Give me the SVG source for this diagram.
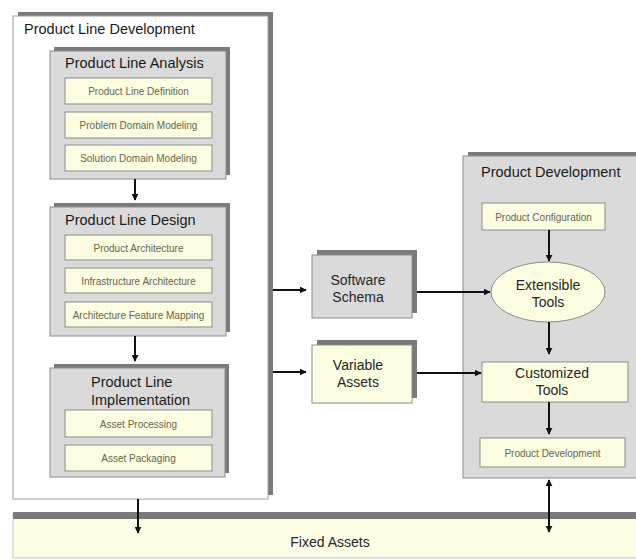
<svg xmlns="http://www.w3.org/2000/svg" width="636" height="560" viewBox="0 0 636 560">
  <defs>
    <marker id="arrow" viewBox="0 0 10 10" refX="9" refY="5" markerWidth="7" markerHeight="7" markerUnits="userSpaceOnUse" orient="auto-start-reverse">
      <path d="M0,0 L10,5 L0,10 z" fill="#111"/>
    </marker>
  </defs>
  <style>
    text { font-family: "Liberation Sans", Arial, sans-serif; }
    .shadow { fill: #7a7a7a; }
    .outer { fill: #ffffff; stroke: #a0a0a0; stroke-width: 1; }
    .group { fill: #dadada; stroke: #8c8c8c; stroke-width: 1; }
    .item { fill: #fdfde2; stroke: #8c8c8c; stroke-width: 1; }
    .title { font-size: 14.5px; fill: #1a1a1a; }
    .small { font-size: 10px; fill: #66664a; text-anchor: middle; }
    .node { font-size: 14px; fill: #262626; text-anchor: middle; }
    .conn { stroke: #111; stroke-width: 2; fill: none; }
  </style>

  <rect width="636" height="560" fill="#ffffff"/>

  <!-- Fixed assets bar -->
  <g id="fixed-assets">
    <rect x="13" y="514" width="630" height="44" fill="#fdfde6" stroke="#c8c8c8"/>
    <rect x="13" y="512" width="630" height="7" fill="#7a7a7a"/>
    <text x="330" y="547" class="node">Fixed Assets</text>
  </g>

  <!-- Product line development container -->
  <g id="product-line-development">
    <rect x="18" y="12" width="255" height="483" class="shadow"/>
    <rect x="13" y="16" width="255" height="483" class="outer"/>
    <text x="24" y="34" class="title">Product Line Development</text>
  </g>

  <g id="product-line-analysis">
    <rect x="54" y="47" width="176" height="128" class="shadow"/>
    <rect x="50" y="51" width="176" height="128" class="group"/>
    <text x="65" y="68" class="title">Product Line Analysis</text>
    <rect x="65" y="78" width="147" height="26" class="item"/>
    <text x="138.5" y="95" class="small">Product Line Definition</text>
    <rect x="65" y="112" width="147" height="26" class="item"/>
    <text x="138.5" y="129" class="small">Problem Domain Modeling</text>
    <rect x="65" y="145" width="147" height="26" class="item"/>
    <text x="138.5" y="162" class="small">Solution Domain Modeling</text>
  </g>

  <g id="product-line-design">
    <rect x="54" y="203" width="176" height="129" class="shadow"/>
    <rect x="50" y="207" width="176" height="129" class="group"/>
    <text x="65" y="225" class="title">Product Line Design</text>
    <rect x="65" y="235" width="147" height="25" class="item"/>
    <text x="138.5" y="251.5" class="small">Product Architecture</text>
    <rect x="65" y="268" width="147" height="25" class="item"/>
    <text x="138.5" y="284.5" class="small">Infrastructure Architecture</text>
    <rect x="65" y="302" width="147" height="25" class="item"/>
    <text x="138.5" y="318.5" class="small">Architecture Feature Mapping</text>
  </g>

  <g id="product-line-implementation">
    <rect x="54" y="364" width="175" height="109" class="shadow"/>
    <rect x="50" y="368" width="175" height="109" class="group"/>
    <text x="91" y="387" class="title">Product Line</text>
    <text x="91" y="405" class="title">Implementation</text>
    <rect x="65" y="410" width="147" height="27" class="item"/>
    <text x="138.5" y="427.5" class="small">Asset Processing</text>
    <rect x="65" y="445" width="147" height="26" class="item"/>
    <text x="138.5" y="462" class="small">Asset Packaging</text>
  </g>

  <!-- Intermediate artefacts -->
  <g id="software-schema">
    <rect x="317" y="250" width="100" height="63" class="shadow"/>
    <rect x="312" y="255" width="100" height="63" class="group"/>
    <text x="358" y="285" class="node">Software</text>
    <text x="358" y="302" class="node">Schema</text>
  </g>

  <g id="variable-assets">
    <rect x="317" y="340" width="100" height="58" class="shadow"/>
    <rect x="312" y="345" width="100" height="58" class="item"/>
    <text x="358" y="370" class="node">Variable</text>
    <text x="358" y="387" class="node">Assets</text>
  </g>

  <!-- Product development container -->
  <g id="product-development">
    <rect x="468" y="152" width="175" height="322" class="shadow"/>
    <rect x="463" y="156" width="175" height="322" class="group"/>
    <text x="481" y="177" class="title">Product Development</text>
  </g>

  <g id="product-configuration">
    <rect x="482" y="203" width="123" height="27" class="item"/>
    <text x="543.5" y="220.5" class="small">Product Configuration</text>
  </g>

  <g id="extensible-tools">
    <ellipse cx="548" cy="292" rx="57" ry="30" fill="#fdfde2" stroke="#8c8c8c"/>
    <text x="548" y="290" class="node">Extensible</text>
    <text x="548" y="307" class="node">Tools</text>
  </g>

  <g id="customized-tools">
    <rect x="482" y="362" width="146" height="40" class="item"/>
    <text x="552" y="378" class="node">Customized</text>
    <text x="552" y="395" class="node">Tools</text>
  </g>

  <g id="product-development-step">
    <rect x="480" y="438" width="145" height="29" class="item"/>
    <text x="552.5" y="456.5" class="small">Product Development</text>
  </g>

  <!-- Connectors -->
  <g id="connectors">
    <line x1="135" y1="179" x2="135" y2="200" class="conn" marker-end="url(#arrow)"/>
    <line x1="135" y1="336" x2="135" y2="361" class="conn" marker-end="url(#arrow)"/>
    <line x1="138" y1="499" x2="138" y2="533" class="conn" marker-end="url(#arrow)"/>
    <line x1="273" y1="290" x2="306" y2="290" class="conn" marker-end="url(#arrow)"/>
    <line x1="273" y1="372" x2="306" y2="372" class="conn" marker-end="url(#arrow)"/>
    <line x1="417" y1="292" x2="490" y2="292" class="conn" marker-end="url(#arrow)"/>
    <line x1="417" y1="373" x2="481" y2="373" class="conn" marker-end="url(#arrow)"/>
    <line x1="549" y1="230" x2="549" y2="261" class="conn" marker-end="url(#arrow)"/>
    <line x1="549" y1="322" x2="549" y2="354" class="conn" marker-end="url(#arrow)"/>
    <line x1="549" y1="402" x2="549" y2="434" class="conn" marker-end="url(#arrow)"/>
    <line x1="549" y1="480" x2="549" y2="532" class="conn" marker-start="url(#arrow)" marker-end="url(#arrow)"/>
  </g>
</svg>
